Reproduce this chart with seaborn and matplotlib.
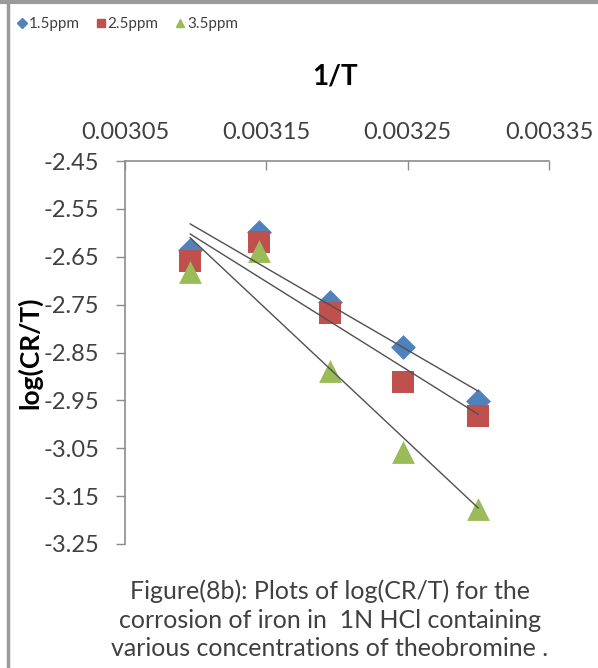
import numpy as np
import pandas as pd
import matplotlib
matplotlib.use("Agg")
import matplotlib.pyplot as plt
import seaborn as sns
from matplotlib.lines import Line2D

# ---- data ----
inv_T = [0.003096, 0.003145, 0.003195, 0.003247, 0.003300]
series_names = ['1.5ppm', '2.5ppm', '3.5ppm']
log_cr_15 = [-2.636, -2.598, -2.744, -2.839, -2.951]
log_cr_25 = [-2.659, -2.620, -2.767, -2.912, -2.983]
log_cr_35 = [-2.682, -2.638, -2.888, -3.058, -3.177]

x_ticks = [0.00305, 0.00315, 0.00325, 0.00335]
y_ticks = [-3.25, -3.15, -3.05, -2.95, -2.85, -2.75, -2.65, -2.55, -2.45]

df = pd.DataFrame({
    'invT': inv_T * 3,
    'logCRT': log_cr_15 + log_cr_25 + log_cr_35,
    'conc': np.repeat(series_names, len(inv_T)),
})

palette = {'1.5ppm': '#4F81BD', '2.5ppm': '#C0504D', '3.5ppm': '#9BBB59'}
markers = {'1.5ppm': 'D', '2.5ppm': 's', '3.5ppm': '^'}
sizes = {'1.5ppm': 160, '2.5ppm': 260, '3.5ppm': 270}

sns.set_style("white")
plt.rcParams['font.family'] = ['Lato', 'DejaVu Sans']
txt_col = '#404040'
axis_col = '#8c8c8c'

fig = plt.figure(figsize=(5.98, 6.68), dpi=100)
ax = fig.add_axes([125 / 598, 1 - 544 / 668, 424 / 598, 383 / 668])

# markers, one series at a time so later series sit on top
for name in series_names:
    sub = df[df['conc'] == name]
    sns.scatterplot(data=sub, x='invT', y='logCRT', color=palette[name],
                    marker=markers[name], s=sizes[name], linewidth=0,
                    ax=ax, legend=False, zorder=2)

# linear trendlines
for name in series_names:
    sub = df[df['conc'] == name]
    sns.regplot(data=sub, x='invT', y='logCRT', scatter=False, ci=None,
                truncate=True, ax=ax,
                line_kws={'color': '#505050', 'linewidth': 1.0, 'zorder': 3})

ax.set_xlim(0.00305, 0.00335)
ax.set_ylim(-3.25, -2.45)
ax.set_xticks(x_ticks)
ax.set_xticklabels([f'{v:.5f}' for v in x_ticks])
ax.set_yticks(y_ticks)
ax.set_yticklabels([f'{v:.2f}' for v in y_ticks])

ax.xaxis.tick_top()
ax.xaxis.set_label_position('top')
ax.set_xlabel('1/T', fontsize=20, fontweight='bold', color='black')
ax.xaxis.set_label_coords(0.495, 1.2)
ax.set_ylabel('log(CR/T)', fontsize=19, fontweight='bold', color='black')
ax.yaxis.set_label_coords(-0.195, 0.5)

ax.tick_params(axis='x', direction='in', length=6.5, width=1, colors=axis_col,
               labelcolor=txt_col, labelsize=17, pad=13)
ax.tick_params(axis='y', direction='out', length=6.5, width=1, colors=axis_col,
               labelcolor=txt_col, labelsize=17, pad=12, left=True)

for side in ['right', 'bottom']:
    ax.spines[side].set_visible(False)
for side in ['top', 'left']:
    ax.spines[side].set_color(axis_col)
    ax.spines[side].set_linewidth(1.2)
ax.grid(False)

# legend across the top
handles = [Line2D([], [], linestyle='none', marker=markers[n], color=palette[n],
                  markersize=6 if n != '1.5ppm' else 5) for n in series_names]
fig.legend(handles, series_names, loc='upper left', bbox_to_anchor=(0.003, 0.995),
           ncol=3, frameon=False, fontsize=11, handletextpad=0.05,
           columnspacing=1.0, handlelength=0.8, labelcolor=txt_col)

# caption
fig.text(330 / 598, 1 - 620 / 668,
         'Figure(8b): Plots of log(CR/T) for the\n'
         'corrosion of iron in  1N HCl containing\n'
         'various concentrations of theobromine .',
         ha='center', va='center', fontsize=18, color=txt_col, linespacing=1.28)

# grey frame edges (left and top)
fig.add_artist(Line2D([8 / 598, 8 / 598], [0, 1], transform=fig.transFigure,
                      color='#9a9a9a', linewidth=2.5))
fig.add_artist(Line2D([0, 1], [1 - 2 / 668, 1 - 2 / 668], transform=fig.transFigure,
                      color='#9a9a9a', linewidth=3))

fig.savefig('out.png', dpi=100)
